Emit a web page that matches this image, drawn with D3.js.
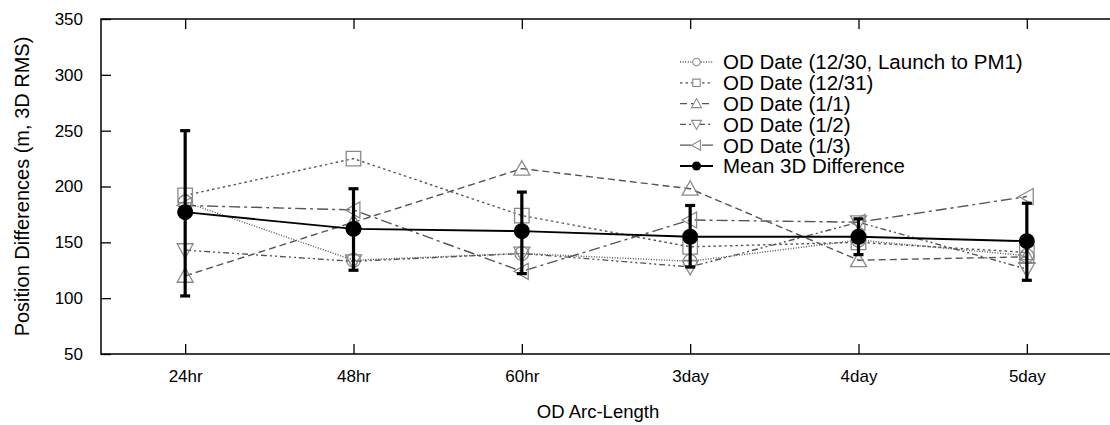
<!DOCTYPE html>
<html><head><meta charset="utf-8">
<script src="https://cdn.jsdelivr.net/npm/d3@7"></script>
<style>
body{margin:0;background:#fff;}
svg{font-family:"Liberation Sans",Arial,Helvetica,sans-serif;}
</style></head>
<body><svg id="c" width="1110" height="425"></svg>
<script>
const categories = ["24hr","48hr","60hr","3day","4day","5day"];
const od1230 = [186, 134, 140, 133, 152, 138];
const od1231 = [192, 225, 174, 146, 150, 141];
const od0101 = [120, 168, 216, 198, 134, 137];
const od0102 = [143, 133, 140, 128, 168, 126];
const od0103 = [183, 179, 124, 170, 168, 191];
const meanVals = [177, 162, 160, 155, 155, 151];
const errLow = [102, 125, 122, 128, 139, 116];
const errHigh = [250, 198, 195, 183, 171, 185];
const yTicks = [50,100,150,200,250,300,350];
const seriesNames = ["OD Date (12/30, Launch to PM1)","OD Date (12/31)","OD Date (1/1)","OD Date (1/2)","OD Date (1/3)"];
const seriesData = [od1230, od1231, od0101, od0102, od0103];
const seriesDash = ["1,1.6","2.5,3","7,4","6,3,2,3,2,3","11,4,3,4"];
const seriesSym = [d3.symbolCircle, d3.symbolSquare, "up", "down", "left"];

const svg = d3.select("#c");
const L=101, R=1111, T=19, B=354;
const x = d3.scalePoint().domain(categories).range([L,R]).padding(0.5);
const y = d3.scaleLinear().domain([50,350]).range([B,T]);

// frame
svg.append("rect").attr("x",L).attr("y",T).attr("width",R-L).attr("height",B-T)
  .attr("fill","none").attr("stroke","#000").attr("stroke-width",1.5);

// axes with inward ticks
const gl = svg.append("g").attr("transform",`translate(${L},0)`)
  .call(d3.axisLeft(y).tickValues(yTicks).tickSize(-10).tickPadding(18));
const gb = svg.append("g").attr("transform",`translate(0,${B})`)
  .call(d3.axisBottom(x).tickSize(-10).tickPadding(16));
const gt = svg.append("g").attr("transform",`translate(0,${T})`)
  .call(d3.axisTop(x).tickSize(-10).tickFormat(""));
[gl,gb,gt].forEach(g=>{
  g.select(".domain").remove();
  g.selectAll(".tick line").attr("stroke","#000").attr("stroke-width",1.3);
  g.selectAll("text").attr("font-size",17).attr("fill","#000").attr("font-family","Liberation Sans, Arial, sans-serif");
});

// axis titles
svg.append("text").attr("x",(L+1095)/2).attr("y",418).attr("text-anchor","middle")
  .attr("font-size",18.5).text("OD Arc-Length");
svg.append("text").attr("transform",`translate(29,${(T+B)/2}) rotate(-90)`)
  .attr("text-anchor","middle").attr("font-size",20).text("Position Differences (m, 3D RMS)");

function tri(dir, s){
  if(dir==="up") return `M0,${-s}L${s},${s*0.8}L${-s},${s*0.8}Z`;
  if(dir==="down") return `M0,${s}L${s},${-s*0.8}L${-s},${-s*0.8}Z`;
  return `M${-s},0L${s*0.8},${-s}L${s*0.8},${s}Z`;
}
function markerPath(sym, big){
  if(typeof sym==="string") return tri(sym, big?8:5);
  return d3.symbol().type(sym).size(sym===d3.symbolSquare ? (big?210:55) : (big?150:45))();
}

const line = d3.line().x((d,i)=>x(categories[i])).y(d=>y(d));

// series
seriesData.forEach((vals,k)=>{
  svg.append("path").datum(vals).attr("d",line).attr("fill","none")
    .attr("stroke","#555").attr("stroke-width",1.4).attr("stroke-dasharray",seriesDash[k]);
  svg.selectAll(null).data(vals).enter().append("path")
    .attr("transform",(d,i)=>`translate(${x(categories[i])},${y(d)})`)
    .attr("d",markerPath(seriesSym[k],true))
    .attr("fill","none").attr("stroke","#8a8a8a").attr("stroke-width",1.3);
});

// mean line + error bars
svg.append("path").datum(meanVals).attr("d",line).attr("fill","none")
  .attr("stroke","#000").attr("stroke-width",1.8);
categories.forEach((c,i)=>{
  const cx=x(c);
  svg.append("line").attr("x1",cx).attr("x2",cx).attr("y1",y(errLow[i])).attr("y2",y(errHigh[i]))
    .attr("stroke","#000").attr("stroke-width",3.2);
  [errLow[i],errHigh[i]].forEach(v=>{
    svg.append("line").attr("x1",cx-5).attr("x2",cx+5).attr("y1",y(v)).attr("y2",y(v))
      .attr("stroke","#000").attr("stroke-width",3.2);
  });
});
svg.selectAll(null).data(meanVals).enter().append("circle")
  .attr("cx",(d,i)=>x(categories[i])).attr("cy",d=>y(d)).attr("r",8).attr("fill","#000");

// legend
const legX1=680, legX2=713, legTx=723, legY0=62, legDy=20.8;
const legNames = seriesNames.concat(["Mean 3D Difference"]);
legNames.forEach((n,k)=>{
  const ly = legY0 + k*legDy;
  const g = svg.append("g");
  const mx=(legX1+legX2)/2;
  if(k<5){
    g.append("line").attr("x1",legX1).attr("x2",legX2).attr("y1",ly).attr("y2",ly)
      .attr("stroke","#555").attr("stroke-width",1.3).attr("stroke-dasharray",seriesDash[k]);
    g.append("path").attr("transform",`translate(${mx},${ly})`).attr("d",markerPath(seriesSym[k],false))
      .attr("fill","#fff").attr("stroke","#8a8a8a").attr("stroke-width",1.1);
  } else {
    g.append("line").attr("x1",legX1).attr("x2",legX2).attr("y1",ly).attr("y2",ly)
      .attr("stroke","#000").attr("stroke-width",1.8);
    g.append("circle").attr("cx",mx).attr("cy",ly).attr("r",4.5).attr("fill","#000");
  }
  g.append("text").attr("x",legTx).attr("y",ly).attr("dy","0.36em").attr("font-size",20.5).text(n);
});
</script></body></html>
